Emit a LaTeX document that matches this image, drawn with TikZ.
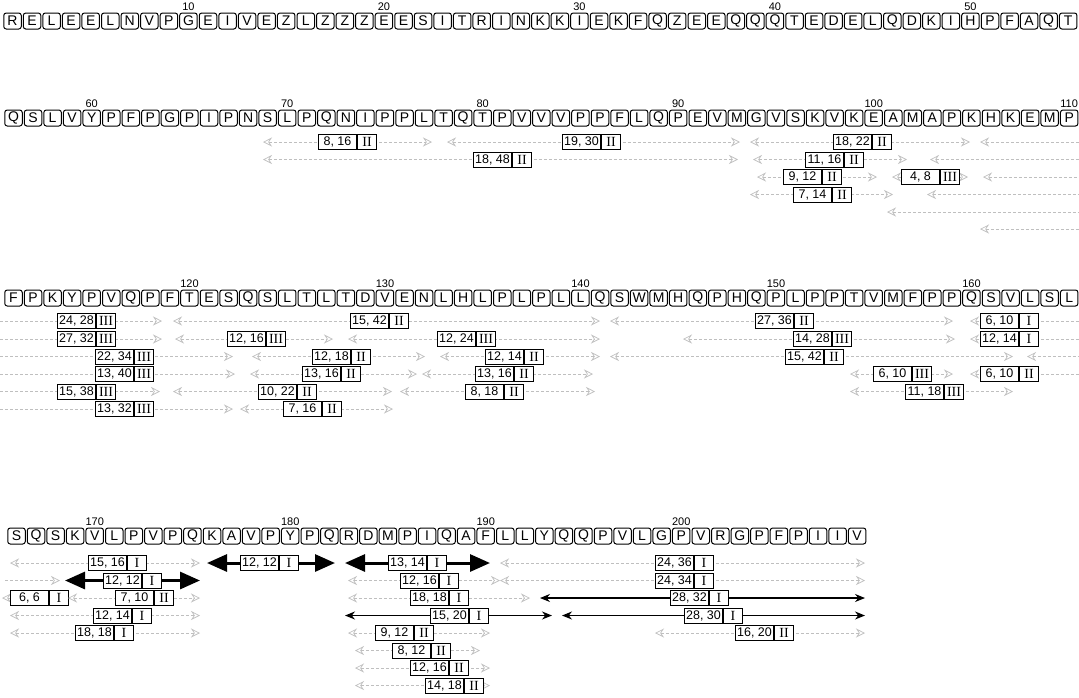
\documentclass[tikz,border=0pt]{standalone}
\usepackage{fontspec}
\setsansfont{Liberation Sans}
\setmainfont{Liberation Serif}
\usetikzlibrary{arrows.meta,positioning}

\begin{document}
\begin{tikzpicture}[x=1pt,y=-1pt,
  res/.style={draw,line width=1pt,rounded corners=2.5pt,minimum width=17.5pt,minimum height=16pt,inner sep=0pt,font=\sffamily\fontsize{14}{14}\selectfont},
  num/.style={inner sep=0.5pt,font=\sffamily\fontsize{11}{11}\selectfont},
  cnt/.style={draw,line width=1pt,fill=white,minimum width=38pt,minimum height=15pt,inner sep=0pt,anchor=west,font=\sffamily\fontsize{12.5}{12.5}\selectfont},
  cls/.style={draw,line width=1pt,fill=white,minimum width=19pt,minimum height=15pt,inner sep=0pt,anchor=west,font=\rmfamily\fontsize{14}{14}\selectfont},
  pale/.style={gray!50,line width=0.7pt,densely dashed,>={Stealth[open,length=9pt,width=9pt]}},
  heavy/.style={black,line width=3pt,>={Triangle[length=20pt,width=17pt]}},
  dark/.style={black,line width=1.1pt,>={Stealth[length=10pt,width=8pt]}},
  dbl/.style={<->},lft/.style={<-},rgt/.style={->}]
\useasboundingbox (0,0) rectangle (1079,697);

\foreach \c [count=\i] in {R,E,L,E,E,L,N,V,P,G,E,I,V,E,Z,L,Z,Z,Z,E,E,S,I,T,R,I,N,K,K,I,E,K,F,Q,Z,E,E,Q,Q,Q,T,E,D,E,L,Q,D,K,I,H,P,F,A,Q,T}
  \node[res] (r\i) at ({12.5+19.55*(\i-1)},21) {\c};
\foreach \c [count=\i from 56] in {Q,S,L,V,Y,P,F,P,G,P,I,P,N,S,L,P,Q,N,I,P,P,L,T,Q,T,P,V,V,V,P,P,F,L,Q,P,E,V,M,G,V,S,K,V,K,E,A,M,A,P,K,H,K,E,M,P}
  \node[res] (r\i) at ({13.5+19.55*(\i-56)},118) {\c};
\foreach \c [count=\i from 111] in {F,P,K,Y,P,V,Q,P,F,T,E,S,Q,S,L,T,L,T,D,V,E,N,L,H,L,P,L,P,L,L,Q,S,W,M,H,Q,P,H,Q,P,L,P,P,T,V,M,F,P,P,Q,S,V,L,S,L}
  \node[res] (r\i) at ({13.5+19.55*(\i-111)},298) {\c};
\foreach \c [count=\i from 166] in {S,Q,S,K,V,L,P,V,P,Q,K,A,V,P,Y,P,Q,R,D,M,P,I,Q,A,F,L,L,Y,Q,Q,P,V,L,G,P,V,R,G,P,F,P,I,I,V}
  \node[res] (r\i) at ({16.5+19.55*(\i-166)},536) {\c};
\foreach \n in {10,20,...,200}
  \node[num,above=1.5pt of r\n] (t\n) {\n};

\foreach \a/\b/\y/\l/\n/\r/\h/\s [count=\k] in {
  263/432/142/318/{8, 16}/II/dbl/pale, 447/740/142/562/{19, 30}/II/dbl/pale,
  750/970/142/833/{18, 22}/II/dbl/pale, 263/738/159.5/473/{18, 48}/II/dbl/pale,
  753/907/159.5/805/{11, 16}/II/dbl/pale, 757/877/177/783/{9, 12}/II/dbl/pale,
  892/968/177/901/{4, 8}/III/dbl/pale, 750/893/194.5/793/{7, 14}/II/dbl/pale}
{
  \draw[\s,\h] (\a,\y) -- (\b,\y);
  \node[cnt] (bn\k) at (\l,\y) {\n};
  \node[cls] (bc\k) at (bn\k.east) {\r};
}
\foreach \a/\b/\y/\l/\n/\r/\h [count=\k] in {
  0/162/321/57/{24, 28}/III/rgt, 173/600/321/350/{15, 42}/II/dbl,
  610/953/321/755/{27, 36}/II/dbl, 970/1079/321/980/{6, 10}/I/lft,
  0/162/339/57/{27, 32}/III/rgt, 175/333/339/227/{12, 16}/III/dbl,
  348/600/339/437/{12, 24}/III/dbl, 683/955/339/793/{14, 28}/III/dbl,
  970/1079/339/980/{12, 14}/I/lft, 0/233/356.5/95/{22, 34}/III/rgt,
  252/425/356.5/312/{12, 18}/II/dbl, 440/600/356.5/485/{12, 14}/II/dbl,
  610/1013/356.5/785/{15, 42}/II/dbl, 0/235/374/95/{13, 40}/III/rgt,
  250/417/374/302/{13, 16}/II/dbl, 422/593/374/475/{13, 16}/II/dbl,
  850/953/374/873/{6, 10}/III/dbl, 970/1079/374/980/{6, 10}/II/lft,
  0/160/391.5/57/{15, 38}/III/rgt, 173/392/391.5/258/{10, 22}/II/dbl,
  400/595/391.5/465/{8, 18}/II/dbl, 850/1013/391.5/905/{11, 18}/III/dbl,
  0/233/409/95/{13, 32}/III/rgt, 240/393/409/283/{7, 16}/II/dbl}
{
  \draw[pale,\h] (\a,\y) -- (\b,\y);
  \node[cnt] (cn\k) at (\l,\y) {\n};
  \node[cls] (cc\k) at (cn\k.east) {\r};
}
\foreach \a/\b/\y/\h in {980/1079/142/lft, 930/1079/159.5/lft, 983/1079/177/lft,
  927/1079/194.5/lft, 887/1079/212/lft, 980/1079/229/lft, 1027/1079/356.5/lft,
  5/60/580.5/rgt}
  \draw[pale,\h] (\a,\y) -- (\b,\y);

\foreach \a/\b/\y/\l/\n/\r/\s [count=\k] in {
  10/200/563/88/{15, 16}/I/pale, 207/335/563/240/{12, 12}/I/heavy,
  345/490/563/388/{13, 14}/I/heavy, 500/865/563/655/{24, 36}/I/pale,
  65/200/580.5/103/{12, 12}/I/heavy, 348/500/580.5/400/{12, 16}/I/pale,
  500/865/580.5/655/{24, 34}/I/pale, 2/62/598/10/{6, 6}/I/pale,
  68/200/598/115/{7, 10}/II/pale, 348/530/598/410/{18, 18}/I/pale,
  540/865/598/670/{28, 32}/I/dark, 10/200/615.5/93/{12, 14}/I/pale,
  345/552/615.5/430/{15, 20}/I/dark, 562/865/615.5/684/{28, 30}/I/dark,
  10/200/633/75/{18, 18}/I/pale, 348/490/633/375/{9, 12}/II/pale,
  655/865/633/735/{16, 20}/II/pale, 355/480/650.5/392/{8, 12}/II/pale,
  355/490/668/410/{12, 16}/II/pale, 355/490/685.5/425/{14, 18}/II/pale}
{
  \draw[\s,dbl] (\a,\y) -- (\b,\y);
  \node[cnt] (dn\k) at (\l,\y) {\n};
  \node[cls] (dc\k) at (dn\k.east) {\r};
}
\end{tikzpicture}
\end{document}
